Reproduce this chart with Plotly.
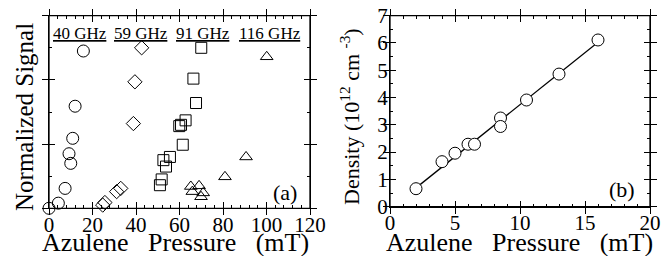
import plotly.graph_objects as go

# ---- Panel (a) data: normalized signal vs azulene pressure (mT)
circ_x = [0, 4.3, 7.4, 9.2, 10.0, 10.9, 12.0, 15.8]
circ_y = [0, 0.08, 0.31, 0.85, 0.70, 1.09, 1.59, 2.45]

diam_x = [24.7, 25.7, 31.1, 33.0, 38.8, 39.5, 42.6]
diam_y = [0.05, 0.09, 0.26, 0.31, 1.32, 1.97, 2.50]

sq_x = [51.0, 51.8, 52.6, 53.8, 55.6, 61.5, 59.9, 60.7, 62.8, 67.6, 66.4, 70.0]
sq_y = [0.36, 0.45, 0.75, 0.65, 0.80, 0.99, 1.28, 1.30, 1.37, 1.64, 2.02, 2.50]

tri_x = [65.2, 65.9, 69.0, 69.9, 70.9, 80.9, 90.6, 100.1]
tri_y = [0.34, 0.26, 0.35, 0.18, 0.24, 0.49, 0.80, 2.36]

freq_labels = ["40 GHz", "59 GHz", "91 GHz", "116 GHz"]
a_xticks = [0, 20, 40, 60, 80, 100, 120]

# ---- Panel (b) data: density vs azulene pressure
dens_x = [2.0, 4.0, 5.0, 6.0, 6.5, 8.5, 8.5, 10.5, 13.0, 16.0]
dens_y = [0.66, 1.65, 1.96, 2.29, 2.29, 3.25, 2.94, 3.91, 4.86, 6.11]
fit_x = [2.0, 16.0]
fit_y = [0.69, 6.03]
b_xticks = [0, 5, 10, 15, 20]
b_yticks = [0, 1, 2, 3, 4, 5, 6, 7]

FONT = "Liberation Serif"
BLACK = "black"

fig = go.Figure()

def mk(sym, size):
    return dict(symbol=sym, size=size, color=BLACK, line=dict(color=BLACK, width=1))

fig.add_trace(go.Scatter(x=circ_x, y=circ_y, mode="markers", marker=mk("circle-open", 12),
                         cliponaxis=False, xaxis="x", yaxis="y"))
fig.add_trace(go.Scatter(x=diam_x, y=diam_y, mode="markers", marker=mk("diamond-open", 11),
                         cliponaxis=False, xaxis="x", yaxis="y"))
fig.add_trace(go.Scatter(x=sq_x, y=sq_y, mode="markers", marker=mk("square-open", 11),
                         cliponaxis=False, xaxis="x", yaxis="y"))
fig.add_trace(go.Scatter(x=tri_x, y=tri_y, mode="markers", marker=mk("triangle-up-open", 11),
                         cliponaxis=False, xaxis="x", yaxis="y"))

fig.add_trace(go.Scatter(x=fit_x, y=fit_y, mode="lines", line=dict(color=BLACK, width=1.3),
                         xaxis="x2", yaxis="y2"))
fig.add_trace(go.Scatter(x=dens_x, y=dens_y, mode="markers",
                         marker=dict(symbol="circle", size=12, color="white",
                                     line=dict(color=BLACK, width=1)),
                         cliponaxis=False, xaxis="x2", yaxis="y2"))

# invisible traces for the outward-tick overlay axes
fig.add_trace(go.Scatter(x=[None], y=[None], xaxis="x3", yaxis="y3", showlegend=False))
fig.add_trace(go.Scatter(x=[None], y=[None], xaxis="x4", yaxis="y4", showlegend=False))

adom = [49 / 664, 310 / 664]
bdom = [390 / 664, 650 / 664]
aydom = [1 - 208.3 / 256, 1 - 15.7 / 256]
bydom = [1 - 206.7 / 256, 1 - 15.7 / 256]

common = dict(showgrid=False, zeroline=False, showline=True, linecolor=BLACK, linewidth=1.3,
              tickcolor=BLACK, tickwidth=1.3, ticklen=6, ticks="inside", mirror="ticks",
              automargin=False, ticklabelstandoff=-3,
              tickfont=dict(family=FONT, size=21, color=BLACK))
over = dict(showgrid=False, zeroline=False, showline=False, ticks="outside", ticklen=6,
            tickcolor=BLACK, tickwidth=1.3, mirror="ticks", showticklabels=False, automargin=False)

fig.update_layout(
    width=664, height=256, margin=dict(l=0, r=0, t=0, b=0, autoexpand=False),
    paper_bgcolor="white", plot_bgcolor="white", showlegend=False,
    xaxis=dict(domain=adom, range=[0, 120], anchor="y", tickvals=a_xticks,
               minor=dict(dtick=4, ticks="inside", ticklen=3, tickcolor=BLACK, tickwidth=1),
               **common),
    yaxis=dict(domain=aydom, range=[0, 3], anchor="x", dtick=1, showticklabels=False,
               minor=dict(dtick=0.5, ticks="inside", ticklen=3, tickcolor=BLACK, tickwidth=1),
               **common),
    xaxis3=dict(domain=adom, range=[0, 120], anchor="y3", overlaying="x", tickvals=a_xticks, **over),
    yaxis3=dict(domain=aydom, range=[0, 3], anchor="x3", overlaying="y", dtick=1, **over),
    xaxis2=dict(domain=bdom, range=[0, 20], anchor="y2", tickvals=b_xticks,
                minor=dict(dtick=1, ticks="inside", ticklen=3, tickcolor=BLACK, tickwidth=1),
                **common),
    yaxis2=dict(domain=bydom, range=[0, 7], anchor="x2", tickvals=b_yticks,
                minor=dict(dtick=0.5, ticks="inside", ticklen=3, tickcolor=BLACK, tickwidth=1),
                **common),
    xaxis4=dict(domain=bdom, range=[0, 20], anchor="y4", overlaying="x2", tickvals=b_xticks, **over),
    yaxis4=dict(domain=bydom, range=[0, 7], anchor="x4", overlaying="y2", tickvals=b_yticks, **over),
)

# frames
for xr, yr in (("x", "y"), ("x2", "y2")):
    fig.add_shape(type="rect", xref=xr + " domain", yref=yr + " domain", x0=0, x1=1, y0=0, y1=1,
                  line=dict(color=BLACK, width=1.3), fillcolor="rgba(0,0,0,0)", layer="above")

ann = []
hdr_x = [80, 141, 202.5, 269.5]
for lab, px in zip(freq_labels, hdr_x):
    ann.append(dict(text="<u>" + lab + "</u>", x=px / 664, y=1 - 33 / 256, xref="paper", yref="paper",
                    showarrow=False, xanchor="center", yanchor="middle",
                    font=dict(family=FONT, size=17, color=BLACK)))
ann.append(dict(text="(a)", x=285 / 664, y=1 - 192 / 256, xref="paper", yref="paper", showarrow=False,
                xanchor="center", yanchor="middle", font=dict(family=FONT, size=22, color=BLACK)))
ann.append(dict(text="(b)", x=622 / 664, y=1 - 189 / 256, xref="paper", yref="paper", showarrow=False,
                xanchor="center", yanchor="middle", font=dict(family=FONT, size=22, color=BLACK)))
ann.append(dict(text="Azulene   Pressure   (mT)", x=175 / 664, y=1 - 242 / 256, xref="paper",
                yref="paper", showarrow=False, xanchor="center", yanchor="middle",
                font=dict(family=FONT, size=26, color=BLACK)))
ann.append(dict(text="Azulene   Pressure   (mT)", x=519 / 664, y=1 - 242 / 256, xref="paper",
                yref="paper", showarrow=False, xanchor="center", yanchor="middle",
                font=dict(family=FONT, size=26, color=BLACK)))
ann.append(dict(text="Normalized Signal", x=24 / 664, y=1 - 117 / 256, xref="paper", yref="paper",
                showarrow=False, textangle=-90, xanchor="center", yanchor="middle",
                font=dict(family=FONT, size=25, color=BLACK)))
ann.append(dict(text="Density (10<sup>12</sup> cm <sup>-3</sup>)", x=350 / 664, y=1 - 117 / 256,
                xref="paper", yref="paper", showarrow=False, textangle=-90, xanchor="center",
                yanchor="middle", font=dict(family=FONT, size=22, color=BLACK)))
fig.update_layout(annotations=ann)

fig.write_html("out.html", config={"displayModeBar": False},
               post_script="document.body.style.margin='0';")
